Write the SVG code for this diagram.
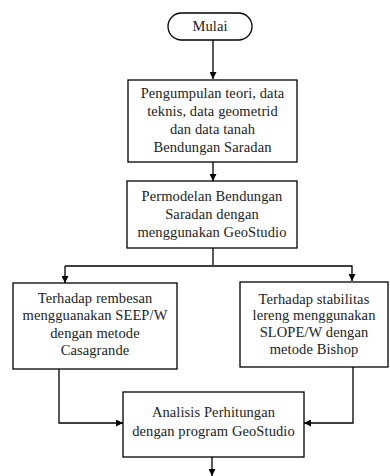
<svg xmlns="http://www.w3.org/2000/svg" width="390" height="476" viewBox="0 0 390 476">
<style>
.box{fill:#fff;stroke:#000;stroke-width:1.3}
.c{fill:none;stroke:#000;stroke-width:1.3}
</style>
<defs>
<marker id="ah" viewBox="0 0 8 8" refX="8" refY="4" markerWidth="7" markerHeight="7" markerUnits="userSpaceOnUse" orient="auto">
<path d="M0,0 L8,4 L0,8 z" fill="#000"/>
</marker>
</defs>
<rect width="390" height="476" fill="#fff"/>
<g id="connectors">
<line class="c" x1="213" y1="40" x2="213" y2="79" marker-end="url(#ah)"/>
<line class="c" x1="213" y1="162" x2="213" y2="181" marker-end="url(#ah)"/>
<line class="c" x1="213" y1="248" x2="213" y2="265"/>
<polyline class="c" points="65,266 352,266 352,281" marker-end="url(#ah)"/>
<line class="c" x1="65" y1="266" x2="65" y2="283" marker-end="url(#ah)"/>
<polyline class="c" points="59,369 59,423 123,423" marker-end="url(#ah)"/>
<polyline class="c" points="353,367 353,423 304,423" marker-end="url(#ah)"/>
<line class="c" x1="212" y1="457" x2="212" y2="476" marker-end="url(#ah)"/>
</g>
<g font-family="Liberation Serif" font-size="14.5" fill="#222" text-anchor="middle" letter-spacing="0.1">
<g id="mulai">
<rect class="box" x="168" y="13" width="84" height="27" rx="13.5"/>
<text x="210" y="31">Mulai</text>
</g>
<g id="pengumpulan">
<rect class="box" x="128" y="80" width="169" height="82"/>
<text x="212.5" y="98">Pengumpulan teori, data</text>
<text x="212.5" y="116">teknis, data geometrid</text>
<text x="212.5" y="134">dan data tanah</text>
<text x="212.5" y="152">Bendungan Saradan</text>
</g>
<g id="permodelan">
<rect class="box" x="127" y="181" width="170" height="67"/>
<text x="212" y="201">Permodelan Bendungan</text>
<text x="212" y="219">Saradan dengan</text>
<text x="212" y="237">menggunakan GeoStudio</text>
</g>
<g id="rembesan">
<rect class="box" x="13" y="283" width="164" height="86"/>
<text x="95" y="303">Terhadap rembesan</text>
<text x="95" y="320">mengguanakan SEEP/W</text>
<text x="95" y="338">dengan metode</text>
<text x="95" y="355">Casagrande</text>
</g>
<g id="stabilitas">
<rect class="box" x="240" y="282" width="148" height="85"/>
<text x="314" y="304">Terhadap stabilitas</text>
<text x="314" y="320">lereng menggunakan</text>
<text x="314" y="337">SLOPE/W dengan</text>
<text x="314" y="354">metode Bishop</text>
</g>
<g id="analisis">
<rect class="box" x="123" y="392" width="181" height="65"/>
<text x="213.5" y="417">Analisis Perhitungan</text>
<text x="213.5" y="436">dengan program GeoStudio</text>
</g>
</g>
</svg>
